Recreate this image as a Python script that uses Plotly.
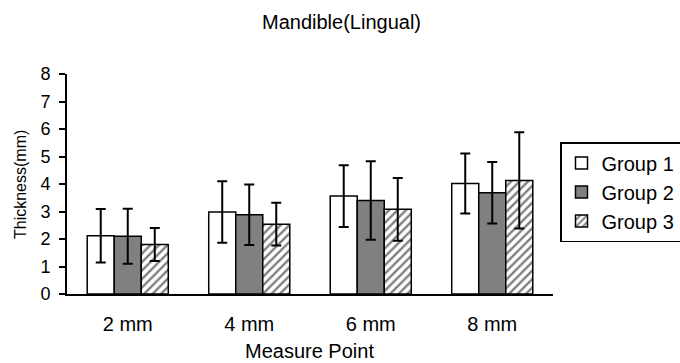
import plotly.graph_objects as go

categories = ["2 mm", "4 mm", "6 mm", "8 mm"]
group1 = [2.12, 2.98, 3.56, 4.02]
group1_sd = [0.97, 1.12, 1.12, 1.09]
group2 = [2.10, 2.88, 3.40, 3.68]
group2_sd = [1.00, 1.10, 1.43, 1.12]
group3 = [1.80, 2.54, 3.08, 4.13]
group3_sd = [0.60, 0.78, 1.14, 1.75]
y_ticks = [0, 1, 2, 3, 4, 5, 6, 7, 8]

FONT = "Liberation Sans, Arial, sans-serif"
TOP, BOTTOM, LEFT, RIGHT = 74, 294, 67, 553
PW, PH = RIGHT - LEFT, BOTTOM - TOP


def px(x):
    return (x - LEFT) / PW


def py(y):
    return (BOTTOM - y) / PH


fig = go.Figure()
err = dict(type="data", color="black", thickness=2, width=5)
fig.add_trace(go.Bar(name="Group 1", x=categories, y=group1,
                     error_y=dict(array=group1_sd, **err),
                     marker=dict(color="white", line=dict(color="black", width=1.5))))
fig.add_trace(go.Bar(name="Group 2", x=categories, y=group2,
                     error_y=dict(array=group2_sd, **err),
                     marker=dict(color="#808080", line=dict(color="black", width=1.5))))
fig.add_trace(go.Bar(name="Group 3", x=categories, y=group3,
                     error_y=dict(array=group3_sd, **err),
                     marker=dict(color="white", line=dict(color="black", width=1.5),
                                 pattern=dict(shape="/", fgcolor="black", bgcolor="white",
                                              size=6, solidity=0.4))))

fig.update_layout(
    width=680, height=363,
    margin=dict(l=LEFT, r=680 - RIGHT, t=TOP, b=363 - BOTTOM, autoexpand=False),
    paper_bgcolor="white", plot_bgcolor="white",
    font=dict(family=FONT, color="black"),
    barmode="group", bargap=0.333, bargroupgap=0,
    showlegend=True,
    legend=dict(x=px(560), y=py(142), xanchor="left", yanchor="top",
                bordercolor="black", borderwidth=1.5, bgcolor="white",
                font=dict(size=20, family=FONT), tracegroupgap=0),
    xaxis=dict(showline=True, linecolor="black", linewidth=2, ticks="",
               tickfont=dict(size=20), ticklabelstandoff=11, showgrid=False),
    yaxis=dict(range=[0, 8], tickvals=y_ticks, showline=True, linecolor="black",
               linewidth=2, ticks="outside", ticklen=6, tickwidth=2, tickcolor="black",
               tickfont=dict(size=18), ticklabelstandoff=5,
               showgrid=False, zeroline=False),
    annotations=[
        dict(text="Mandible(Lingual)", xref="paper", yref="paper",
             x=px(341), y=py(22), xanchor="center", yanchor="middle",
             showarrow=False, font=dict(size=20, family=FONT)),
        dict(text="Measure Point", xref="paper", yref="paper",
             x=px(309), y=py(351), xanchor="center", yanchor="middle",
             showarrow=False, font=dict(size=20, family=FONT)),
        dict(text="Thickness(mm)", xref="paper", yref="paper",
             x=px(20), y=py(185), xanchor="center", yanchor="middle",
             textangle=-90, showarrow=False, font=dict(size=16, family=FONT)),
    ],
)

fig.write_html("out.html")
